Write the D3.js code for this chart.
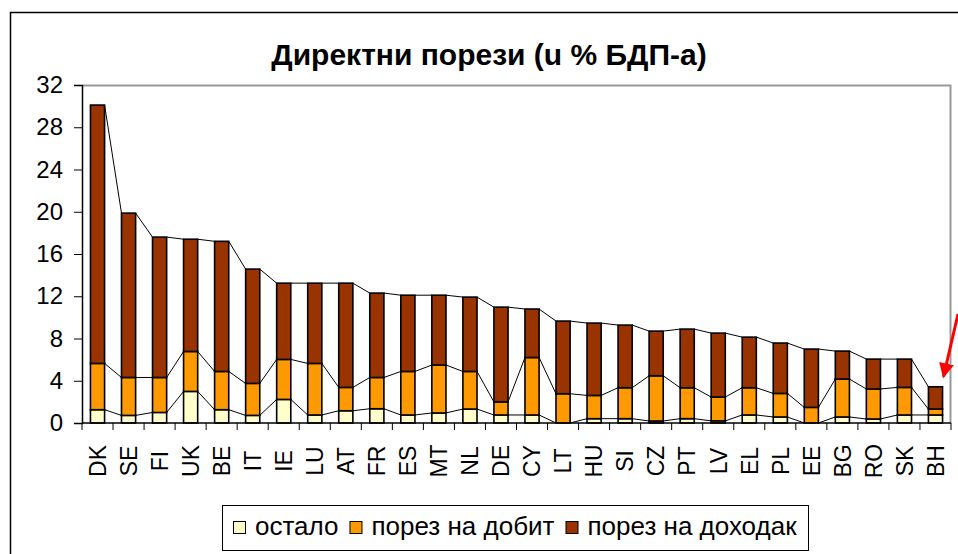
<!DOCTYPE html>
<html>
<head>
<meta charset="utf-8">
<script src="https://cdn.jsdelivr.net/npm/d3@7"></script>
<style>
  body { margin: 0; background: #fff; }
  svg { display: block; font-family: "Liberation Sans", Arial, sans-serif; }
</style>
</head>
<body>
<script>
// countries, sorted by total direct taxes
var categories = ["DK","SE","FI","UK","BE","IT","IE","LU","AT","FR","ES","MT","NL","DE",
                  "CY","LT","HU","SI","CZ","PT","LV","EL","PL","EE","BG","RO","SK","BH"];
// остало
var ostalo = [1.26,0.72,1.0,2.99,1.26,0.72,2.23,0.76,1.16,1.35,0.76,0.95,1.32,0.76,
              0.76,0,0.41,0.41,0.19,0.41,0.2,0.76,0.57,0,0.57,0.38,0.76,0.76];
// порез на добит
var dobit = [4.38,3.59,3.31,3.78,3.62,3.03,3.79,4.88,2.21,2.96,4.12,4.54,3.56,1.24,
             5.44,2.77,2.2,2.93,4.28,2.93,2.26,2.58,2.23,1.48,3.59,2.84,2.61,0.56];
// порез на доходак
var dohodak = [24.46,15.56,13.29,10.63,12.32,10.82,7.22,7.6,9.87,7.99,7.22,6.61,7.04,8.97,
               4.59,6.88,6.85,5.93,4.23,5.55,6.05,4.79,4.77,5.52,2.65,2.83,2.68,2.11];
var yTicks = [0,4,8,12,16,20,24,28,32];
var seriesNames = ["остало","порез на добит","порез на доходак"];
var colors = ["#FFFFCC","#FF9900","#993300"];

var width = 958, height = 554;
var margin = {top: 85, right: 7, bottom: 131, left: 82};
var w = width - margin.left - margin.right;
var h = height - margin.top - margin.bottom;

var svg = d3.select("body").append("svg").attr("width", width).attr("height", height);

// outer chart frame (runs off the picture on the right and bottom)
svg.append("rect")
  .attr("x", 10.5).attr("y", 12.5).attr("width", 1000).attr("height", 600)
  .attr("fill", "none").attr("stroke", "#000").attr("stroke-width", 1.5);

svg.append("text")
  .attr("x", 489).attr("y", 65)
  .attr("text-anchor", "middle")
  .attr("font-weight", "bold").attr("font-size", 30)
  .text("Директни порези (u % БДП-а)");

var g = svg.append("g").attr("transform", "translate(" + margin.left + "," + margin.top + ")");

var x = d3.scaleBand().domain(categories).range([0, w]).paddingInner(0.545).paddingOuter(0.2725);
var y = d3.scaleLinear().domain([0, 32]).range([h, 0]);

// plot area border, grey on top and right
g.append("path")
  .attr("d", "M0,0.5H" + (w - 0.5) + "V" + h)
  .attr("fill", "none").attr("stroke", "#999").attr("stroke-width", 2);

var table = categories.map(function(c, i) {
  return {cat: c, ostalo: ostalo[i], dobit: dobit[i], dohodak: dohodak[i]};
});
var stack = d3.stack().keys(["ostalo","dobit","dohodak"])(table);

// series lines joining the tops of neighbouring bars
stack.forEach(function(s) {
  var segs = [];
  for (var i = 0; i < s.length - 1; i++) {
    segs.push([[x(categories[i]) + x.bandwidth(), y(s[i][1])], [x(categories[i + 1]), y(s[i + 1][1])]]);
  }
  g.selectAll(null).data(segs).enter().append("line")
    .attr("x1", function(d) { return d[0][0]; })
    .attr("y1", function(d) { return d[0][1]; })
    .attr("x2", function(d) { return d[1][0]; })
    .attr("y2", function(d) { return d[1][1]; })
    .attr("stroke", "#000").attr("stroke-width", 1);
});

stack.forEach(function(s, k) {
  g.append("g").selectAll("rect").data(s).enter().append("rect")
    .attr("x", function(d, i) { return x(categories[i]); })
    .attr("y", function(d) { return y(d[1]); })
    .attr("width", x.bandwidth())
    .attr("height", function(d) { return y(d[0]) - y(d[1]); })
    .attr("fill", colors[k])
    .attr("stroke", "#000").attr("stroke-width", 1.6);
});

// y axis
var yAxis = g.append("g").call(d3.axisLeft(y).tickValues(yTicks).tickSize(8).tickPadding(11));
yAxis.select(".domain").attr("stroke", "#000").attr("stroke-width", 1.5);
yAxis.selectAll("text").attr("font-size", 24).attr("font-family", "Liberation Sans, Arial, sans-serif").attr("fill", "#000");

// x axis: ticks between categories
var xa = g.append("g").attr("transform", "translate(0," + h + ")");
xa.append("line").attr("x1", 0).attr("x2", w).attr("stroke", "#000").attr("stroke-width", 1.5);
var step = w / categories.length;
xa.selectAll(".tk").data(d3.range(categories.length + 1)).enter().append("line")
  .attr("x1", function(d) { return d * step; }).attr("x2", function(d) { return d * step; })
  .attr("y1", 0).attr("y2", 7).attr("stroke", "#000").attr("stroke-width", 1);
xa.selectAll(".lbl").data(categories).enter().append("text")
  .attr("transform", function(d) { return "translate(" + (x(d) + x.bandwidth() / 2) + ",38) rotate(-90)"; })
  .attr("text-anchor", "middle").attr("dy", "0.36em")
  .attr("font-size", 23)
  .text(function(d) { return d; });

// legend
var lg = svg.append("g");
lg.append("rect").attr("x", 222.5).attr("y", 505.5).attr("width", 586).attr("height", 45)
  .attr("fill", "#fff").attr("stroke", "#000").attr("stroke-width", 1);
var lx = 233;
seriesNames.forEach(function(n, k) {
  lg.append("rect").attr("x", lx + 0.5).attr("y", 521.5).attr("width", 12).attr("height", 12)
    .attr("fill", colors[k]).attr("stroke", "#000").attr("stroke-width", 1);
  var t = lg.append("text").attr("x", lx + 22).attr("y", 535).attr("font-size", 26).text(n);
  lx = lx + 22 + t.node().getComputedTextLength() + 11;
});

// red arrow pointing at BH
var defs = svg.append("defs");
defs.append("marker").attr("id", "ah").attr("viewBox", "0 0 10 10")
  .attr("refX", 9).attr("refY", 5).attr("markerWidth", 5).attr("markerHeight", 5)
  .attr("orient", "auto")
  .append("path").attr("d", "M0,0L10,5L0,10z").attr("fill", "#FF0000");
var bhx = margin.left + x("BH") + x.bandwidth() / 2;
var bhy = margin.top + y(3.43);
svg.append("line")
  .attr("x1", 958).attr("y1", 314)
  .attr("x2", bhx + 8).attr("y2", bhy - 10)
  .attr("stroke", "#FF0000").attr("stroke-width", 3)
  .attr("marker-end", "url(#ah)");
</script>
</body>
</html>
